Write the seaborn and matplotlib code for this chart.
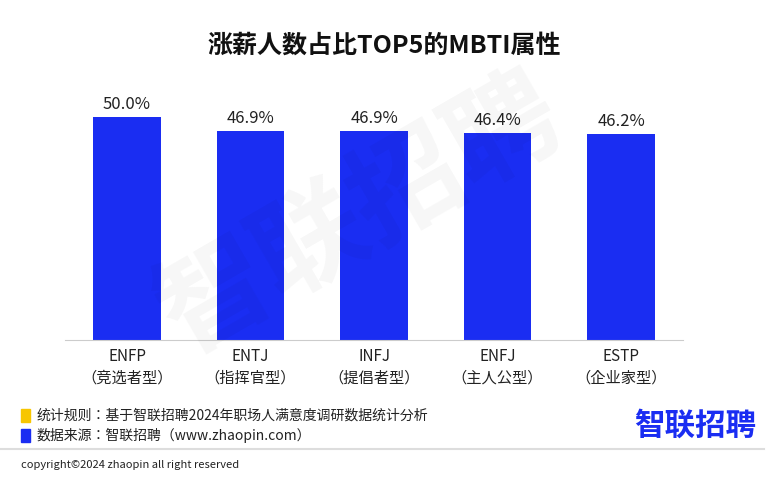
import matplotlib
matplotlib.use('Agg')
import matplotlib.pyplot as plt
from matplotlib import font_manager
import seaborn as sns
import pandas as pd
from matplotlib.patches import Rectangle

cjk = sorted(set(f.name for f in font_manager.fontManager.ttflist if 'Sans CJK' in f.name))
cjk_name = 'Noto Sans CJK SC' if 'Noto Sans CJK SC' in cjk else (cjk[0] if cjk else 'DejaVu Sans')
plt.rcParams['font.family'] = 'sans-serif'
plt.rcParams['font.sans-serif'] = [cjk_name, 'DejaVu Sans']

types = ['ENFP', 'ENTJ', 'INFJ', 'ENFJ', 'ESTP']
roles = ['竞选者型', '指挥官型', '提倡者型', '主人公型', '企业家型']
values = [50.0, 46.9, 46.9, 46.4, 46.2]

df = pd.DataFrame({'type': types, 'value': values})
blue = '#1a2df2'

fig = plt.figure(figsize=(7.68, 4.78), dpi=100)
fig.patch.set_facecolor('white')
ax = fig.add_axes([0.085, 0.289, 0.804, 0.513])
sns.barplot(data=df, x='type', y='value', color=blue, width=0.55, saturation=1, ax=ax)
ax.set_ylim(0, 55)
ax.set_yticks([])
ax.set_xlabel('')
ax.set_ylabel('')
for s in ['top', 'right', 'left']:
    ax.spines[s].set_visible(False)
ax.spines['bottom'].set_color('#cccccc')
ax.tick_params(axis='x', length=0, pad=6)
ax.set_xticks(range(len(types)))
ax.set_xticklabels([f'{t}\n（{r}）' for t, r in zip(types, roles)], fontsize=11, color='#222222', linespacing=1.3)
for i, v in enumerate(values):
    ax.text(i, v + 0.8, f'{v:.1f}%', ha='center', va='bottom', fontsize=12, color='#222222')

# watermark
fig.text(0.47, 0.55, '智联招聘', fontsize=80, color='#000000', alpha=0.035, rotation=30,
         ha='center', va='center', fontweight='bold')

fig.text(0.5, 0.905, '涨薪人数占比TOP5的MBTI属性', ha='center', va='center', fontsize=18, fontweight='bold', color='#111111')

fig.patches.append(Rectangle((0.027, 0.118), 0.012, 0.027, transform=fig.transFigure, color='#f7c600'))
fig.patches.append(Rectangle((0.027, 0.075), 0.012, 0.027, transform=fig.transFigure, color=blue))
fig.text(0.047, 0.131, '统计规则：基于智联招聘2024年职场人满意度调研数据统计分析', fontsize=10, va='center', color='#222222')
fig.text(0.047, 0.088, '数据来源：智联招聘（www.zhaopin.com）', fontsize=10, va='center', color='#222222')
fig.text(0.985, 0.11, '智联招聘', fontsize=22, fontweight='bold', color=blue, ha='right', va='center')
fig.lines.append(plt.Line2D([0.0, 0.995], [0.06, 0.06], transform=fig.transFigure, color='#dddddd', lw=1.5))
fig.text(0.027, 0.027, 'copyright©2024 zhaopin all right reserved', fontsize=8, va='center', color='#222222')

fig.savefig('out.png', dpi=100)
